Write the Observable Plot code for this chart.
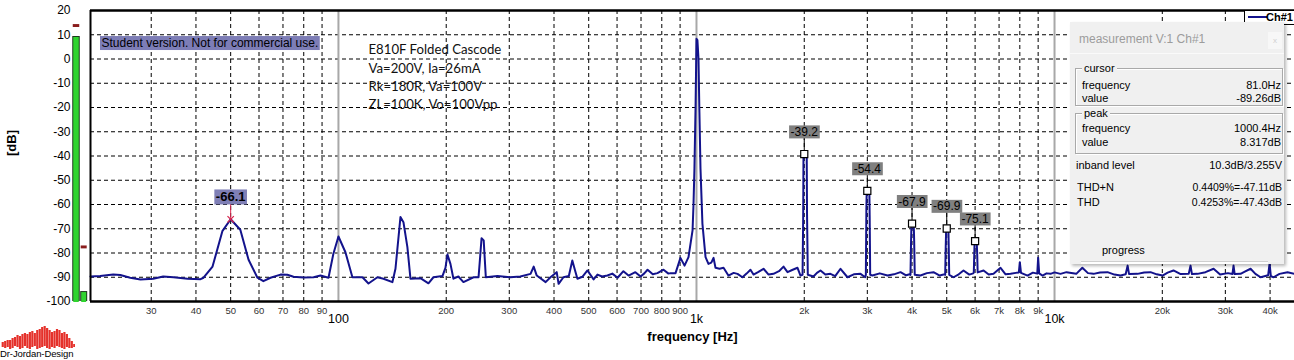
<!DOCTYPE html>
<html><head><meta charset="utf-8">
<script src="https://cdn.jsdelivr.net/npm/d3@7"></script>
<script src="https://cdn.jsdelivr.net/npm/@observablehq/plot@0.6"></script>
<style>
body{margin:0;background:#fff;}
#wrap{position:relative;width:1294px;height:360px;overflow:hidden;font-family:"Liberation Sans",Arial,sans-serif;}
#wrap svg{position:absolute;left:0;top:0;}
.abs{position:absolute;white-space:nowrap;}
#panel{position:absolute;left:1070px;top:22px;width:214px;height:242px;background:#f0f0f0;box-shadow:2px 2px 3px rgba(0,0,0,.28);overflow:hidden;font-size:11px;line-height:13px;color:#000;}
.grp{position:absolute;left:5px;width:206px;border:1px solid #a9a9a9;box-shadow:inset 1px 1px #fff,1px 1px #fff;}
.grp span{position:absolute;left:6px;top:-7px;background:#f0f0f0;padding:0 2px;}
#legend{position:absolute;left:1244px;top:10px;width:50px;height:13px;background:#fff;border:1px solid #000;border-right:none;font-size:11px;font-weight:bold;line-height:13px;}
</style></head><body><div id="wrap"></div>
<script>
// ---------- data ----------
const X_DOMAIN = [20.3, 46800];
const Y_DOMAIN = [-100, 20];
const yTicks = [20, 10, 0, -10, -20, -30, -40, -50, -60, -70, -80, -90, -100];
const gridY = [10, 0, -10, -20, -30, -40, -50, -60, -70, -80, -90];
const xMinorTicks = [30, 40, 50, 60, 70, 80, 90, 200, 300, 400, 500, 600, 700, 800, 900, 2000, 3000, 4000, 5000, 6000, 7000, 8000, 9000, 20000, 30000, 40000];
const xMinorLabels = ["30", "40", "50", "60", "70", "80", "90", "200", "300", "400", "500", "600", "700", "800", "900", "2k", "3k", "4k", "5k", "6k", "7k", "8k", "9k", "20k", "30k", "40k"];
const xMajorTicks = [100, 1000, 10000];
const xMajorLabels = ["100", "1k", "10k"];

const spectrumPoints = [
 [20.3,-89.7],[21.6,-89.5],[23.5,-88.9],[24.6,-89.1],[26.2,-90.2],[28.0,-90.9],[30.4,-90.6],[32.4,-89.7],
 [34.6,-90.0],[37.9,-90.6],[41.2,-90.8],[42.0,-90.2],[44.5,-85.6],[47.4,-71.0],[50.0,-66.1],[53.2,-70.4],
 [56.1,-82.8],[59.4,-90.2],[61.7,-91.6],[64.6,-90.2],[68.9,-88.9],[72.0,-89.0],[74.9,-89.8],[79.8,-90.1],
 [85.2,-90.0],[89.1,-89.3],[93.8,-90.2],[96.8,-80.3],[100,-73.2],[104.6,-79.7],[109.4,-90.0],[116.7,-90.0],
 [121.3,-92.6],[128.5,-90.0],[133.6,-90.6],[141.5,-92.0],[144.3,-86.5],[149.0,-65.2],[151.9,-67.3],[155.8,-77.6],
 [158.9,-90.6],[169.4,-90.4],[178.4,-92.5],[184.2,-90.0],[195.2,-89.5],[199.0,-86.1],[201.6,-80.6],[205.5,-84.5],
 [209.5,-90.6],[216.3,-89.7],[223.4,-92.0],[238.4,-90.0],[246.2,-90.0],[248.5,-82.4],[251,-73.9],[254.5,-74.8],
 [258,-90.0],[278,-89.5],[302,-90.0],[322,-89.7],[344,-88.6],[351,-85.6],[358,-89.3],[379,-92.0],
 [391,-90.0],[407,-87.9],[412,-92.7],[425,-90.0],[440,-89.5],[450,-83.1],[458,-87.2],[465,-90.6],
 [480,-89.8],[496,-87.2],[516,-90.9],[529,-88.9],[545,-89.7],[564,-89.3],[582,-88.5],[602,-90.2],
 [625,-87.5],[646,-89.3],[675,-87.9],[698,-89.7],[715,-88.4],[730,-86.9],[755,-88.8],[778,-88.3],
 [809,-86.9],[835,-88.5],[846,-88.3],[874,-88.3],[902,-82.0],[926,-85.2],[950,-81.7],[975,-70.7],
 [981,-60],[987,-45],[994,-20],[1000,8.3],[1006,7.8],[1013,0],[1019,-22],[1026,-45],
 [1039,-68],[1060,-81.7],[1080,-84.5],[1100,-84],[1116,-82.0],[1130,-86.1],[1160,-86.5],[1190,-86.1],
 [1228,-89.3],[1270,-88.2],[1302,-88.6],[1344,-90.0],[1380,-88.5],[1415,-86.9],[1443,-88.9],[1490,-87.8],
 [1539,-86.5],[1590,-88.9],[1641,-88.6],[1700,-87.5],[1750,-85.6],[1796,-87.9],[1850,-87.0],[1915,-86.1],
 [1952,-89.3],[1978,-89],[1986,-66],[1990,-40],[2000,-39.2],[2032,-40.5],[2036,-64],[2046,-89],
 [2122,-89.7],[2170,-88.2],[2220,-87.2],[2290,-88.9],[2367,-88.6],[2440,-89.5],[2525,-86.5],[2641,-90.0],
 [2750,-88.8],[2872,-88.6],[2960,-90.0],[2972,-89],[2982,-62],[2988,-55],[3000,-54.4],[3040,-55.5],
 [3046,-65],[3056,-89],[3100,-89.3],[3250,-88.4],[3417,-89.3],[3560,-88.8],[3714,-87.9],[3850,-89.2],
 [3940,-88.8],[3960,-89],[3975,-75],[3985,-68.5],[4000,-67.9],[4045,-69],[4055,-75],[4070,-89],
 [4224,-89.3],[4400,-88.3],[4592,-87.9],[4780,-89.3],[4930,-88.8],[4950,-89],[4968,-77],[4980,-70.5],
 [5000,-69.9],[5055,-71],[5065,-78],[5080,-89],[5224,-90.0],[5400,-88.8],[5569,-87.2],[5780,-88.9],
 [5930,-88.4],[5950,-88],[5970,-80],[5980,-75.8],[6000,-75.1],[6065,-76],[6080,-80],[6100,-88],
 [6336,-87.2],[6550,-88.9],[6755,-88.6],[7067,-86.1],[7300,-88.8],[7538,-88.6],[7800,-88.2],[7950,-88.0],
 [8000,-83.8],[8060,-88.2],[8406,-89.3],[8700,-88.1],[8950,-88.5],[9000,-82.0],[9060,-88.4],[9259,-89.3],
 [9500,-88.4],[9746,-88.6],[10000,-88.0],[10390,-88.6],[10800,-87.9],[11500,-88.6],[11960,-86.1],[12400,-88.3],
 [12850,-88.6],[13400,-88.0],[14060,-87.9],[14700,-88.9],[15290,-89.3],[15800,-88.8],[16000,-85.2],[16150,-88.7],
 [17050,-88.6],[17800,-88.0],[18540,-87.9],[19300,-88.8],[20030,-89.3],[20700,-88.1],[21490,-87.2],[22500,-88.7],
 [23700,-88.6],[23980,-85.2],[24200,-88.7],[25080,-88.6],[26400,-87.9],[27810,-86.5],[29000,-88.9],[30500,-88.3],
 [31400,-88.7],[31620,-85.2],[31850,-88.7],[33080,-88.6],[34000,-87.7],[35280,-86.5],[36400,-88.6],[37630,-90.0],
 [39500,-89.2],[39870,-84.4],[40200,-89.6],[40900,-90.0],[42500,-88.6],[44750,-87.9],[46800,-88.6]
];

const harmonicFreqs = [2000, 3000, 4000, 5000, 6000];
const harmonicDb = [-39.2, -54.4, -67.9, -69.9, -75.1];
const mainsFreqs = [50];
const mainsDb = [-66.1];
const meterLevels = [9.3, -95.9];
const meterHolds = [13.6, -77.7];
const studentNote = "Student version. Not for commercial use.";
const setupNotes = ["E810F Folded Cascode", "Va=200V, Ia=26mA", "Rk=180R, Va=100V", "ZL=100K, Vo=100Vpp"];
const logoTop = [20,19,18,18,16,15,13,14,12,11,12,10,9,11,8,7,5,4,6,8,10,9,7,8,11,10,12,16,19,22];
const logoBottom = [25,26,25,27,26,24,25,27,26,24,26,27,25,24,27,26,25,24,26,27,25,26,24,25,26,27,25,26,26,25];

// ---------- build ----------
const spectrum = spectrumPoints.map(([f, db]) => ({f, db}));
const harmonics = harmonicFreqs.map((f, i) => ({f, db: harmonicDb[i]}));
const mains = mainsFreqs.map((f, i) => ({f, db: mainsDb[i]}));
const F0 = X_DOMAIN[0];
const LINE = "#13138c";

function meter(value, hold, dx, w) {
  return [
    Plot.ruleX([value], {x: () => F0, y1: () => Y_DOMAIN[0], y2: d => d, dx, stroke: "#1c3a1c", strokeWidth: w}),
    Plot.ruleX([value], {x: () => F0, y1: () => Y_DOMAIN[0], y2: d => d, dx, dy: 1, stroke: "#2fd42f", strokeWidth: w - 2}),
    Plot.ruleX([hold], {x: () => F0, y1: () => hold - 0.6, y2: () => hold + 0.6, dx, stroke: "#8a1d1d", strokeWidth: w - 1})
  ];
}

const chart = Plot.plot({
  width: 1294, height: 360,
  marginLeft: 90, marginRight: 0, marginTop: 10, marginBottom: 59,
  x: {type: "log", domain: X_DOMAIN, axis: null},
  y: {domain: Y_DOMAIN, axis: null},
  style: {fontFamily: "'Liberation Sans', Arial, sans-serif", background: "#fff", overflow: "visible"},
  marks: [
    Plot.ruleY(gridY, {stroke: "#000", strokeDasharray: "4,3", strokeWidth: 1}),
    Plot.ruleX(xMinorTicks, {stroke: "#000", strokeDasharray: "4,3", strokeWidth: 1}),
    Plot.ruleX(xMajorTicks, {stroke: "#a8a8a8", strokeWidth: 2}),
    Plot.line(spectrum, {x: "f", y: "db", stroke: LINE, strokeWidth: 2}),
    // harmonic cursors
    Plot.ruleX(harmonics, {x: "f", y1: "db", y2: d => d.db + 7, stroke: "#000"}),
    Plot.dot(harmonics, {x: "f", y: "db", symbol: "square", r: 4, stroke: "#000", fill: "#fff", strokeWidth: 1.2}),
    Plot.text(harmonics, {x: "f", y: "db", dy: -22, text: d => d.db.toFixed(1), fontSize: 12, fill: "#000001"}),
    // mains peak
    Plot.ruleX(mains, {x: "f", y1: "db", y2: d => d.db + 7, stroke: "#d8264e"}),
    Plot.dot(mains, {x: "f", y: "db", symbol: "times", r: 3, stroke: "#d8264e", strokeWidth: 1.2}),
    Plot.text(mains, {x: "f", y: "db", dy: -22, text: d => d.db.toFixed(1), fontSize: 13, fontWeight: "bold", fill: "#000002"}),
    // notes
    Plot.text([studentNote], {frameAnchor: "top-left", dx: 11, dy: 28, textAnchor: "start", fontSize: 12, fill: "#000003"}),
    Plot.text([setupNotes.join("\n")], {frameAnchor: "top-left", dx: 278, dy: 31, textAnchor: "start", lineAnchor: "top", lineHeight: 1.38, fontSize: 13.2, fontFamily: "Lato, 'Open Sans', sans-serif", fill: "#111"}),
    // frame
    Plot.ruleY([Y_DOMAIN[1], Y_DOMAIN[0]], {stroke: "#000", strokeWidth: 2.5}),
    Plot.ruleX([F0], {stroke: "#000", strokeWidth: 2}),
    // level meters
    ...meter(meterLevels[0], meterHolds[0], -14.5, 7.5),
    ...meter(meterLevels[1], meterHolds[1], -6.8, 7),
    // axes text
    Plot.text(yTicks, {y: d => d, frameAnchor: "left", dx: -20, textAnchor: "end", fontSize: 12, fill: "#000"}),
    Plot.text(xMinorTicks, {x: d => d, text: (d, i) => xMinorLabels[i], frameAnchor: "bottom", dy: 12, fontSize: 9.5, fill: "#333"}),
    Plot.text(xMajorTicks, {x: d => d, text: (d, i) => xMajorLabels[i], frameAnchor: "bottom", dy: 21, fontSize: 12.5, fill: "#000"}),
    Plot.text(["frequency [Hz]"], {frameAnchor: "bottom", dy: 39, fontSize: 13, fontWeight: "bold", fill: "#000"}),
    Plot.text(["[dB]"], {frameAnchor: "left", dx: -79, rotate: -90, fontSize: 13, fontWeight: "bold", fill: "#000"})
  ]
});

const wrap = document.getElementById("wrap");
wrap.appendChild(chart);

function addBg(svg, fillKey, bg, padX, padY) {
  svg.querySelectorAll(`g[fill="${fillKey}"] text`).forEach(t => {
    const b = t.getBBox();
    const r = document.createElementNS("http://www.w3.org/2000/svg", "rect");
    r.setAttribute("x", b.x - padX);
    r.setAttribute("y", b.y - padY);
    r.setAttribute("width", b.width + 2 * padX);
    r.setAttribute("height", b.height + 2 * padY);
    r.setAttribute("fill", bg);
    const tr = t.getAttribute("transform");
    if (tr) r.setAttribute("transform", tr);
    t.parentNode.insertBefore(r, t);
  });
}
addBg(chart, "#000001", "#808080", 1.5, -0.5);
addBg(chart, "#000002", "#7f7fb6", 1.5, 0);
addBg(chart, "#000003", "#7d7db6", 1.5, 0);

// legend
const legend = document.createElement("div");
legend.id = "legend";
legend.innerHTML = `<div class="abs" style="left:3px;top:5px;width:19px;height:2px;background:${LINE}"></div><div class="abs" style="left:21px;top:0px">Ch#1</div>`;
wrap.appendChild(legend);

// measurement panel
const panelRows = [
  ["frequency", "81.0Hz", 57, 12, 3, 11],
  ["value", "-89.26dB", 70, 12, 3, 11],
  ["frequency", "1000.4Hz", 100, 12, 3, 11],
  ["value", "8.317dB", 114, 12, 3, 11],
  ["inband level", "10.3dB/3.255V", 137, 6, 2, 11],
  ["THD+N", "0.4409%=-47.11dB", 159, 7, 2, 10.5],
  ["THD", "0.4253%=-47.43dB", 173.5, 7, 2, 10.5]
];
const panel = document.createElement("div");
panel.id = "panel";
let html = `<div class="abs" style="left:9px;top:11px;font-size:12px;color:#9c9c9c">measurement V:1 Ch#1</div>
<div class="abs" style="left:198px;top:10px;width:14px;height:17px;background:#f7f7f7;color:#d0d0d0;font-size:8px;text-align:center;line-height:17px">x</div>
<div class="abs" style="left:0;top:31px;width:214px;height:1px;background:#fafafa"></div>
<div class="grp" style="top:46px;height:36px"><span>cursor</span></div>
<div class="grp" style="top:91px;height:39px"><span>peak</span></div>`;
panelRows.forEach(([a, b, top, left, right, fs]) => {
  html += `<div class="abs" style="left:${left}px;top:${top}px">${a}</div><div class="abs" style="right:${right}px;top:${top}px;font-size:${fs}px">${b}</div>`;
});
html += `<div class="abs" style="left:32px;top:222px">progress</div>
<div class="abs" style="left:11px;top:239px;width:187px;height:4px;background:#fff;border-top:1px solid #cfcfcf"></div>`;
panel.innerHTML = html;
wrap.appendChild(panel);

// logo
const logo = Plot.plot({
  width: 74, height: 28, margin: 0,
  x: {domain: [-0.5, logoTop.length - 0.5], axis: null},
  y: {domain: [28, 0], axis: null},
  marks: [
    Plot.ruleX(logoTop, {x: (d, i) => i, y1: d => d, y2: (d, i) => logoBottom[i], stroke: "#e5312b", strokeWidth: 2.2})
  ]
});
logo.style.position = "absolute";
logo.style.left = "1px";
logo.style.top = "322px";
wrap.appendChild(logo);
const logoText = document.createElement("div");
logoText.className = "abs";
logoText.style.cssText = "left:0;top:348px;font-size:9.5px;color:#000;letter-spacing:-0.1px";
logoText.textContent = "Dr-Jordan-Design";
wrap.appendChild(logoText);
</script></body></html>
